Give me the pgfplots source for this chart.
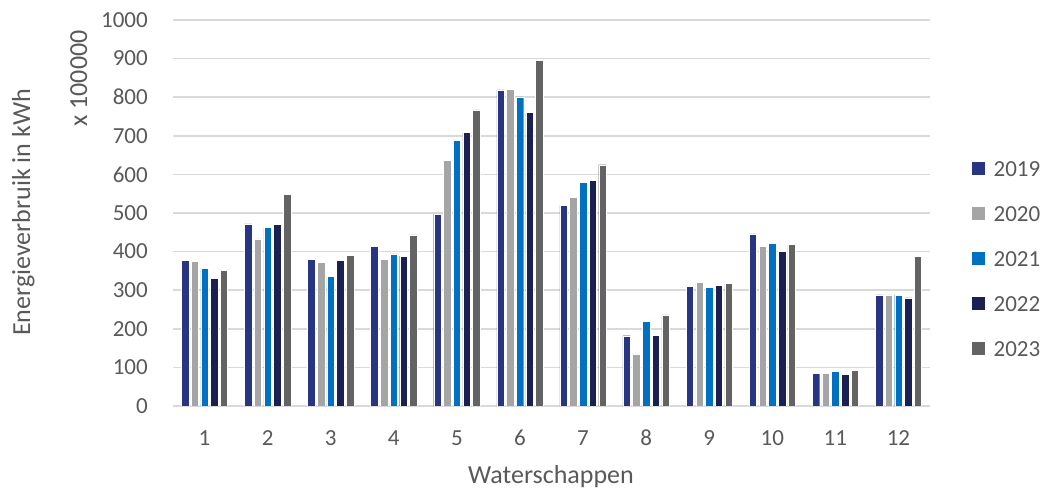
\documentclass[border=0pt]{standalone}
\usepackage{fontspec}
\setmainfont{Carlito}
\usepackage{pgfplots}
\usepackage{pgfplotstable}
\pgfplotsset{compat=1.18}
\definecolor{c19}{HTML}{283583}
\definecolor{c20}{HTML}{A5A5A5}
\definecolor{c21}{HTML}{0070C0}
\definecolor{c22}{HTML}{1A2052}
\definecolor{c23}{HTML}{636363}
\definecolor{txt}{HTML}{595959}
\definecolor{gridc}{HTML}{D9D9D9}
\pgfplotstableread{
x y19 y20 y21 y22 y23
1 378 375 357 331 351
2 472 433 462 471 548
3 380 373 335 377 391
4 414 380 394 388 443
5 497 636 689 709 767
6 819 821 801 760 895
7 520 541 579 585 625
8 182 135 220 183 236
9 310 320 307 313 317
10 446 413 421 400 418
11 84 85 89 82 92
12 288 288 287 280 388
}\datatable
\newcommand{\tickfont}{\fontsize{23bp}{27bp}\selectfont}
\newcommand{\labfont}{\fontsize{26bp}{30bp}\selectfont}
\begin{document}
\begin{tikzpicture}[x=1bp,y=1bp]
\path (0,0) rectangle (1043,490);
\begin{axis}[
  at={(173bp,84bp)}, anchor=south west,
  width=757bp, height=386bp, scale only axis,
  xmin=0.5, xmax=12.5, ymin=0, ymax=1000,
  xtick={1,...,12}, ytick={0,100,...,1000},
  ymajorgrids, grid style={gridc, line width=1.5bp},
  axis line style={draw=none},
  major tick length=0pt,
  /pgf/number format/assume math mode=true,
  /pgf/number format/1000 sep={},
  ticklabel style={font=\tickfont, text=txt},
  yticklabel style={anchor=east, inner sep=0pt, xshift=-25bp},
  xticklabel style={anchor=base, inner sep=0pt, yshift=-40bp},
  ybar=2.2bp, bar width=7.5bp,
  every axis plot/.append style={draw=white, line width=0.4bp},
  legend image code/.code={\fill[#1] (0bp,-7bp) rectangle (14bp,7bp);},
  legend style={at={(rel axis cs:1.0542,0.637)}, anchor=north west,
    draw=none, fill=none, inner sep=0pt, font=\tickfont, text=txt,
    row sep=29bp, nodes={inner sep=0pt, text height=16bp, text depth=0bp, text=txt},
    /tikz/every odd column/.append style={column sep=8bp}},
  legend cell align=left,
]
\addplot[fill=c19] table[x=x,y=y19]{\datatable};
\addplot[fill=c20] table[x=x,y=y20]{\datatable};
\addplot[fill=c21] table[x=x,y=y21]{\datatable};
\addplot[fill=c22] table[x=x,y=y22]{\datatable};
\addplot[fill=c23] table[x=x,y=y23]{\datatable};
\legend{2019,2020,2021,2022,2023}
\end{axis}
\node[rotate=90, anchor=base, text=txt, font=\labfont, inner sep=0pt] at (30,277.5) {Energieverbruik in kWh};
\node[rotate=90, anchor=base, text=txt, font=\labfont, inner sep=0pt] at (87,411.5) {x 100000};
\node[anchor=base, text=txt, font=\labfont, inner sep=0pt] at (551,6) {Waterschappen};
\end{tikzpicture}
\end{document}
